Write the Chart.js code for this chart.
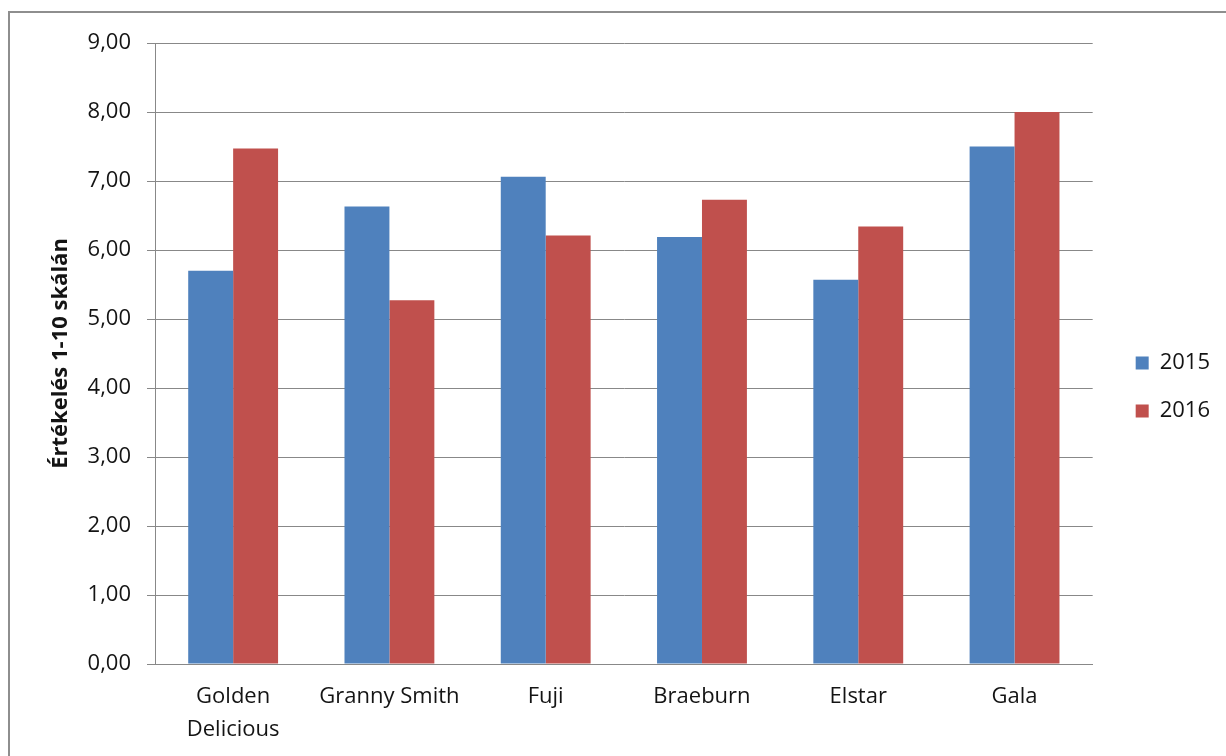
<!DOCTYPE html>
<html>
<head>
<meta charset="utf-8">
<script src="https://cdn.jsdelivr.net/npm/chart.js@4/dist/chart.umd.min.js"></script>
<style>
  body { margin: 0; background: #fff; }
  .wrap { position: relative; width: 1226px; height: 756px; }
  .frame { position: absolute; left: 8px; top: 11px; width: 1240px; height: 800px;
           border-left: 2px solid #8e8e8e; border-top: 2px solid #8e8e8e; }
  canvas { position: absolute; left: 0; top: 0; }
</style>
</head>
<body>
<div class="wrap">
  <div class="frame"></div>
  <canvas id="myChart" width="1226" height="756"></canvas>
</div>
<script>
// apple varieties and yearly ratings (1-10 scale)
const categories = [["Golden", "Delicious"], "Granny Smith", "Fuji", "Braeburn", "Elstar", "Gala"];
const seriesNames = ["2015", "2016"];
const values2015 = [5.70, 6.63, 7.06, 6.19, 5.57, 7.50];
const values2016 = [7.47, 5.27, 6.21, 6.73, 6.34, 8.00];
const yTickLabels = ["0,00", "1,00", "2,00", "3,00", "4,00", "5,00", "6,00", "7,00", "8,00", "9,00"];
const yTitle = "Értékelés 1-10 skálán";

const colors = {
  blue: "#4f81bd",
  red: "#c0504d",
  grid: "#888888",
  text: "#141414",
};
const fontFamily = "'Open Sans', sans-serif";

const ctx = document.getElementById("myChart").getContext("2d");

const data = {
  labels: categories,
  datasets: [
    {
      label: seriesNames[0],
      data: values2015,
      backgroundColor: colors.blue,
      yAxisID: "y",
    },
    {
      label: seriesNames[1],
      data: values2016,
      backgroundColor: colors.red,
      yAxisID: "y",
    },
  ],
};

const config = {
  type: "bar",
  data: data,
  options: {
    responsive: false,
    animation: false,
    devicePixelRatio: 1,
    datasets: {
      bar: { categoryPercentage: 0.575, barPercentage: 1.0 },
    },
    layout: {
      padding: { left: 0, top: 43, right: 6, bottom: 0 },
    },
    plugins: {
      legend: {
        position: "right",
        align: "start",
        // empty title only pushes the two items down to mid height
        title: { display: true, text: "", padding: { top: 283, bottom: 0 }, font: { size: 1, lineHeight: 0 } },
        labels: {
          boxWidth: 13,
          boxHeight: 13,
          padding: 26,
          color: colors.text,
          font: { family: fontFamily, size: 22 },
        },
      },
      tooltip: { enabled: false },
    },
    scales: {
      x: {
        grid: { display: false, drawTicks: false },
        border: { display: true, color: colors.grid, width: 1 },
        ticks: {
          color: colors.text,
          padding: 16,
          maxRotation: 0,
          autoSkip: false,
          font: { family: fontFamily, size: 22, lineHeight: 1.5 },
        },
        afterFit: (scale) => { scale.height = 92; },
      },
      y: {
        min: 0,
        max: 9,
        ticks: {
          stepSize: 1,
          color: colors.text,
          padding: 16,
          font: { family: fontFamily, size: 22 },
          callback: (value, index) => yTickLabels[index],
        },
        grid: { color: colors.grid, lineWidth: 1, tickLength: 8 },
        border: { display: true, color: colors.grid, width: 1 },
        title: {
          display: true,
          text: yTitle,
          color: colors.text,
          padding: { top: 48, bottom: 0 },
          font: { family: fontFamily, size: 22, weight: "bold" },
        },
        afterFit: (scale) => { scale.width = 155; },
      },
      // empty spacer between plot and legend
      y2: {
        position: "right",
        grid: { display: false, drawTicks: false },
        border: { display: false },
        ticks: { display: false },
        afterFit: (scale) => { scale.width = 17; },
      },
    },
  },
};

const myChart = new Chart(ctx, config);
</script>
</body>
</html>
